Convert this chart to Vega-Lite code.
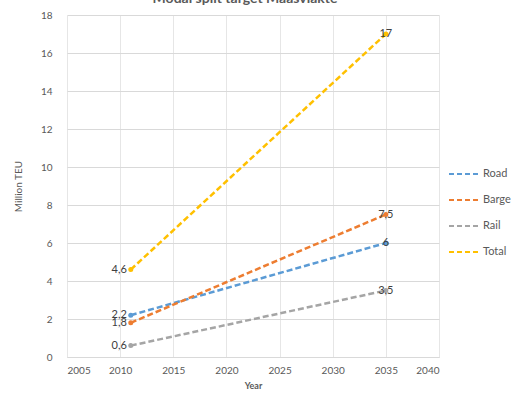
{
  "$schema": "https://vega.github.io/schema/vega-lite/v6.json",
  "autosize": {"type": "none"},
  "width": 372,
  "height": 342,
  "padding": {"left": 67, "top": 15, "right": 82, "bottom": 49},
  "background": "white",
  "config": {
    "font": "Lato",
    "view": {"stroke": null},
    "locale": {"number": {"decimal": ",", "thousands": ".", "grouping": [3], "currency": ["€", ""]}}
  },
  "title": {
    "text": "Modal split target Maasvlakte",
    "fontSize": 14,
    "fontWeight": "bold",
    "color": "#595959",
    "baseline": "alphabetic",
    "offset": 0,
    "dy": 7,
    "dx": -8
  },
  "data": {
    "values": [
      {"year": 2011, "series": "Road", "teu": 2.2},
      {"year": 2035, "series": "Road", "teu": 6},
      {"year": 2011, "series": "Barge", "teu": 1.8},
      {"year": 2035, "series": "Barge", "teu": 7.5},
      {"year": 2011, "series": "Rail", "teu": 0.6},
      {"year": 2035, "series": "Rail", "teu": 3.5},
      {"year": 2011, "series": "Total", "teu": 4.6},
      {"year": 2035, "series": "Total", "teu": 17}
    ]
  },
  "encoding": {
    "x": {
      "field": "year", "type": "quantitative",
      "scale": {"domain": [2005, 2040], "nice": false, "zero": false},
      "axis": {
        "title": "Year", "values": [2005, 2010, 2015, 2020, 2025, 2030, 2035, 2040], "format": "d",
        "labelColor": "#595959", "labelFontSize": 10, "ticks": false, "domainColor": "#D9D9D9",
        "gridColor": "#E6E6E6", "labelPadding": 8, "titleFontSize": 9, "titleColor": "#595959",
        "titleFontWeight": "bold", "titlePadding": 6
      }
    },
    "y": {
      "field": "teu", "type": "quantitative",
      "scale": {"domain": [0, 18], "nice": false},
      "axis": {
        "title": "Million TEU", "values": [0, 2, 4, 6, 8, 10, 12, 14, 16, 18],
        "labelColor": "#595959", "labelFontSize": 10, "ticks": false, "domain": false,
        "gridColor": "#D9D9D9", "labelPadding": 15, "titleFontSize": 10, "titleColor": "#595959",
        "titleFontWeight": "normal", "titlePadding": 17
      }
    },
    "color": {
      "field": "series", "type": "nominal",
      "scale": {"domain": ["Road", "Barge", "Rail", "Total"], "range": ["#5B9BD5", "#ED7D31", "#A5A5A5", "#FFC000"]},
      "legend": {
        "title": null, "orient": "none", "legendX": 381, "legendY": 143,
        "symbolType": "stroke", "symbolSize": 900, "symbolStrokeWidth": 2, "symbolDash": [5, 3],
        "labelFontSize": 11, "labelColor": "#595959", "rowPadding": 5, "labelOffset": 3
      }
    }
  },
  "layer": [
    {"mark": {"type": "line", "strokeWidth": 2.5, "strokeDash": [6, 3]}},
    {"mark": {"type": "point", "filled": true, "size": 25, "opacity": 1}},
    {
      "transform": [{"filter": "datum.year == 2011"}],
      "mark": {"type": "text", "align": "right", "dx": -4, "fontSize": 11, "color": "#404040"},
      "encoding": {"text": {"field": "teu", "type": "quantitative", "format": "~g"}, "color": {"value": "#404040"}}
    },
    {
      "transform": [{"filter": "datum.year == 2035"}],
      "mark": {"type": "text", "align": "center", "fontSize": 11, "color": "#404040"},
      "encoding": {"text": {"field": "teu", "type": "quantitative", "format": "~g"}, "color": {"value": "#404040"}}
    }
  ]
}
